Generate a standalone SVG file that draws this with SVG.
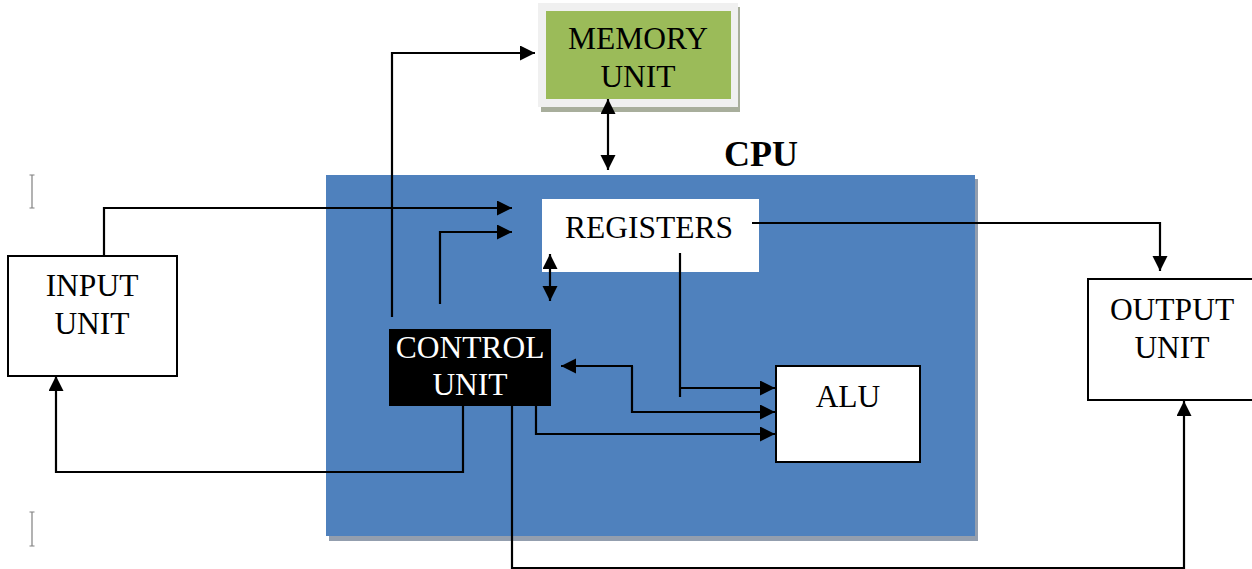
<svg xmlns="http://www.w3.org/2000/svg" width="1252" height="569" viewBox="0 0 1252 569">
<style>
.t{font-family:"Liberation Serif","Times New Roman",serif;font-size:31.5px;text-anchor:middle;fill:#000}
.w{fill:#fff}
.box{fill:#fff;stroke:#000;stroke-width:2}
.c{fill:none;stroke:#000;stroke-width:2.2}
.arr{marker-end:url(#ah)}
.cur{stroke:#808080;stroke-width:1.2;fill:none}
</style>
<defs>
<marker id="ah" markerUnits="userSpaceOnUse" markerWidth="16" markerHeight="16" refX="15" refY="7.5" orient="auto">
<path d="M0,0 L15,7.5 L0,15 Z" fill="#000"/>
</marker>
<marker id="ahs" markerUnits="userSpaceOnUse" markerWidth="16" markerHeight="16" refX="15" refY="7.5" orient="auto-start-reverse">
<path d="M0,0 L15,7.5 L0,15 Z" fill="#000"/>
</marker>
</defs>
<rect width="1252" height="569" fill="#fff"/>
<g id="cursors">
<path class="cur" d="M32,175 V208 M29.5,175 H34.5 M29.5,208 H34.5"/>
<path class="cur" d="M32,512 V546 M29.5,512 H34.5 M29.5,546 H34.5"/>
</g>
<g id="cpu">
<rect x="329" y="179" width="649" height="362" fill="#939eae"/>
<rect x="326" y="175" width="649" height="361" fill="#4f81bd"/>
<text x="724" y="166" font-family="Liberation Serif, Times New Roman, serif" font-size="36" font-weight="bold">CPU</text>
</g>
<g id="memory">
<rect x="541" y="7" width="199" height="105" fill="#a8ae9c"/>
<rect x="538" y="3" width="200" height="104" fill="#f0f0f0"/>
<rect x="546" y="11" width="185" height="88" fill="#9bbb59"/>
<text class="t" x="638" y="49">MEMORY</text>
<text class="t" x="638" y="87">UNIT</text>
</g>
<g id="input">
<rect class="box" x="8" y="256" width="169" height="120"/>
<text class="t" x="92" y="296">INPUT</text>
<text class="t" x="92" y="334">UNIT</text>
</g>
<g id="output">
<rect class="box" x="1088" y="279" width="170" height="121"/>
<text class="t" x="1172" y="320">OUTPUT</text>
<text class="t" x="1172" y="358">UNIT</text>
</g>
<g id="registers">
<rect x="542" y="199" width="217" height="73" fill="#fff"/>
<text class="t" x="649" y="238">REGISTERS</text>
</g>
<g id="control">
<rect x="389" y="329" width="162" height="77" fill="#000"/>
<text class="t w" x="470" y="358">CONTROL</text>
<text class="t w" x="470" y="395">UNIT</text>
</g>
<g id="alu">
<rect class="box" x="776" y="366" width="144" height="96"/>
<text class="t" x="848" y="407">ALU</text>
</g>
<g id="connectors">
<line class="c" x1="608" y1="99" x2="608" y2="170" marker-start="url(#ahs)" marker-end="url(#ahs)"/>
<polyline class="c arr" points="392,317 392,53 535,53"/>
<polyline class="c arr" points="104,256 104,208 512,208"/>
<polyline class="c arr" points="440,304 440,232 512,232"/>
<line class="c" x1="550" y1="254" x2="550" y2="301" marker-start="url(#ahs)" marker-end="url(#ahs)"/>
<polyline class="c arr" points="752,223 1160,223 1160,271"/>
<polyline class="c" points="680,253 680,397"/>
<polyline class="c arr" points="680,388 775,388"/>
<polyline class="c arr" points="632,366 632,412 775,412"/>
<line class="c arr" x1="633" y1="366" x2="561" y2="366"/>
<polyline class="c arr" points="536,406 536,434 775,434"/>
<polyline class="c arr" points="463,406 463,472 56,472 56,376"/>
<polyline class="c arr" points="512,406 512,568 1184,568 1184,401"/>
</g>
</svg>
